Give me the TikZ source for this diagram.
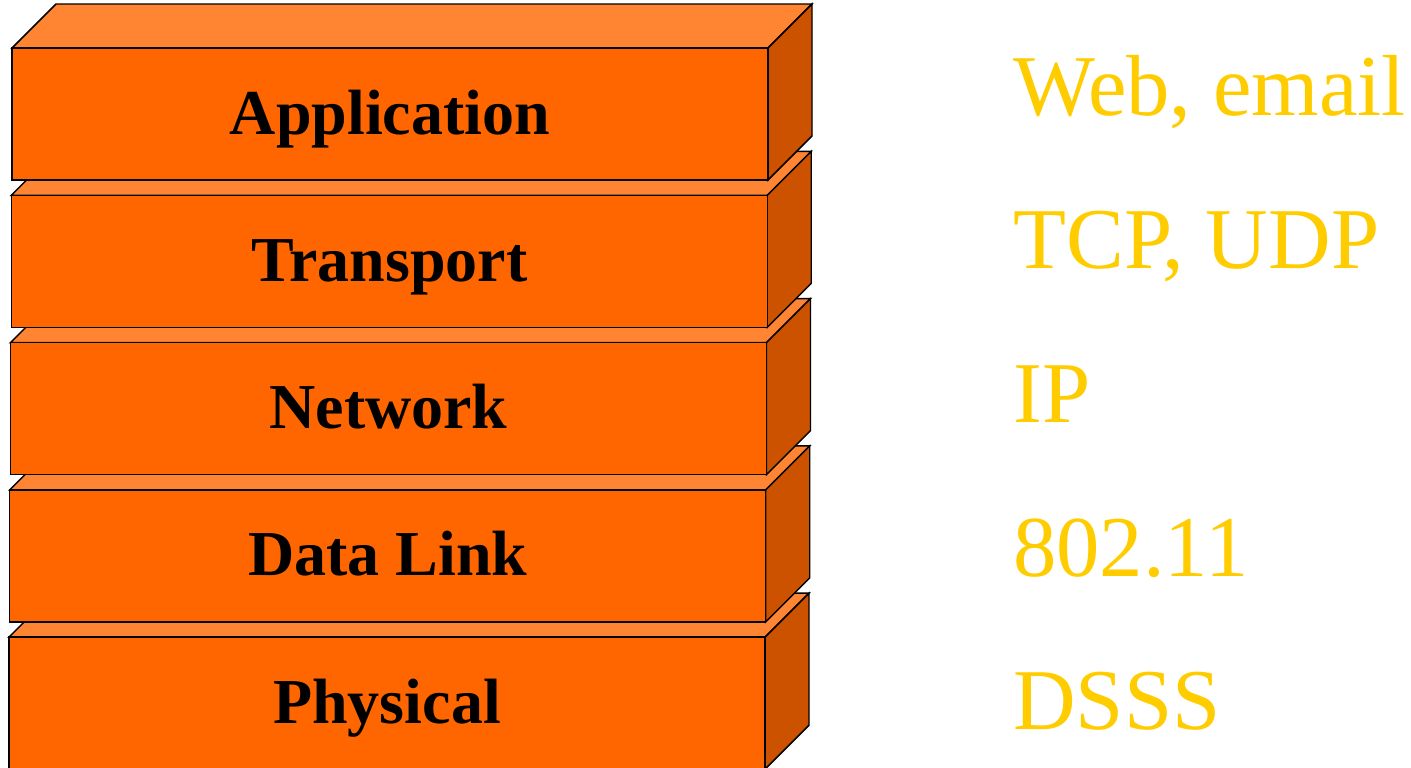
\documentclass[tikz,border=0pt]{standalone}
\usepackage{fontspec}
\setmainfont{Liberation Serif}

\definecolor{frontorange}{HTML}{FF6600}
\definecolor{toporange}{HTML}{FF8533}
\definecolor{sideorange}{HTML}{CC5200}
\definecolor{protogold}{HTML}{FFCC00}

\begin{document}
\begin{tikzpicture}[
  x=0.75pt,y=-0.75pt,
  face/.style={draw=black,line width=1.1pt,line join=miter},
  layerlabel/.style={font=\fontsize{48}{52}\selectfont\bfseries,anchor=base,inner sep=0pt},
  protolabel/.style={font=\fontsize{65}{70}\selectfont,text=protogold,anchor=base west,inner sep=0pt},
]
\useasboundingbox (0,0) rectangle (1411,768);
% stack drawn bottom up, so each layer covers the one below
\foreach \i/\layer/\proto in {4/Physical/DSSS,3/Data Link/802.11,2/Network/IP,1/Transport/{TCP, UDP},0/Application/{Web, email}} {
  \begin{scope}[shift={(-0.75*\i,147.3*\i)}]
    \filldraw[face,fill=toporange] (12,48) -- (56,4) -- (812,4) -- (768,48) -- cycle;
    \filldraw[face,fill=sideorange] (768,48) -- (812,4) -- (812,136) -- (768,180) -- cycle;
    \filldraw[face,fill=frontorange] (12,48) rectangle (768,180);
    \node[layerlabel] (layer\i) at (390,134) {\layer};
  \end{scope}
  \node[protolabel] (proto\i) at (1013,115+153.7*\i) {\proto};
}
\end{tikzpicture}
\end{document}
